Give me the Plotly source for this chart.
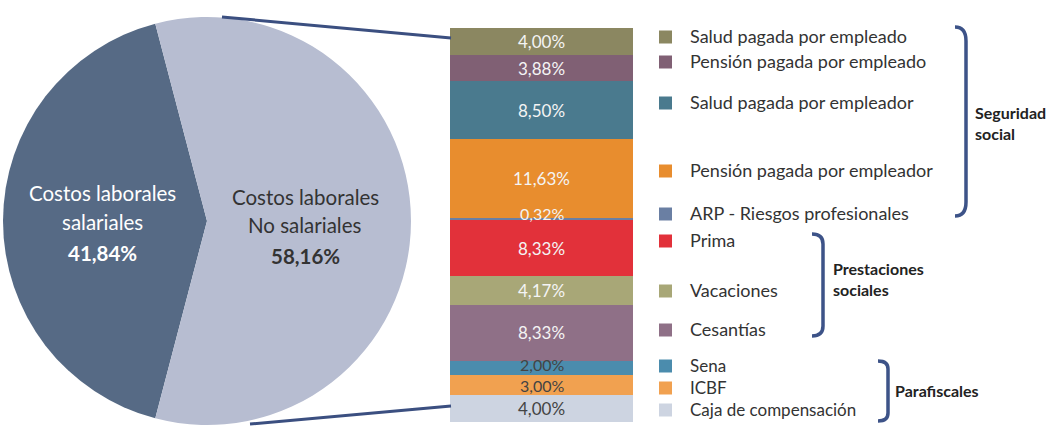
import plotly.graph_objects as go

W, H = 1049, 429

# ---------------- data ----------------
pie_labels = ["Costos laborales salariales", "Costos laborales No salariales"]
pie_values = [41.84, 58.16]
pie_colors = ["#566a85", "#b7bdd1"]

categories = [
    "Salud pagada por empleado",
    "Pensión pagada por empleado",
    "Salud pagada por empleador",
    "Pensión pagada por empleador",
    "ARP - Riesgos profesionales",
    "Prima",
    "Vacaciones",
    "Cesantías",
    "Sena",
    "ICBF",
    "Caja de compensación",
]
values = [4.00, 3.88, 8.50, 11.63, 0.32, 8.33, 4.17, 8.33, 2.00, 3.00, 4.00]
colors = ["#8b8761", "#806074", "#4a7a8e", "#e88d2e", "#6a7fa3", "#e2313a",
          "#a8a777", "#8f7087", "#4b8cad", "#f1a150", "#cdd4e1"]
label_colors = ["#f4f4f4"] * 8 + ["#444444"] * 3

groups = ["Seguridad<br>social", "Prestaciones<br>sociales", "Parafiscales"]

# ---------------- layout helpers (pixel -> paper) ----------------
def X(px):
    return px / W

def Y(py):
    return 1 - py / H

fig = go.Figure()

# Pie
cx, cy, r = 207, 221, 204
fig.add_trace(go.Pie(
    labels=pie_labels, values=pie_values, sort=False, direction="clockwise",
    rotation=270 - pie_values[0] / sum(pie_values) * 360 / 2,
    marker=dict(colors=pie_colors, line=dict(width=0)),
    textinfo="none", showlegend=False, hoverinfo="label+percent",
    domain=dict(x=[X(cx - r), X(cx + r)], y=[Y(cy + r), Y(cy - r)]),
))

# Stacked bar
total = sum(values)
for cat, v, c in zip(categories, values, colors):
    fig.add_trace(go.Bar(
        x=[0], y=[v], name=cat, marker=dict(color=c, line=dict(width=0)),
        width=1, showlegend=False, hoverinfo="name+y",
    ))

bar_x0, bar_x1, bar_y0, bar_y1 = 450, 633, 28, 422
fig.update_layout(
    barmode="stack",
    xaxis=dict(domain=[X(bar_x0), X(bar_x1)], range=[-0.5, 0.5], visible=False, fixedrange=True),
    yaxis=dict(domain=[Y(bar_y1), Y(bar_y0)], range=[total, 0], visible=False, fixedrange=True),
)

annotations = []
shapes = []
font_main = "Lato, 'Open Sans', sans-serif"

# bar value labels
label_shift = [0, 0, 0, 0, 5, 0, 0, 0, 3, -1, 0]
label_size = [17, 17, 17, 17, 16, 17, 17, 17, 16, 16, 17]
cum = 0
for v, lc, sh, fs in zip(values, label_colors, label_shift, label_size):
    mid = cum + v / 2
    cum += v
    annotations.append(dict(
        x=0, y=mid, xref="x", yref="y", showarrow=False,
        xanchor="center", yanchor="middle",
        text=f"{v:.2f}".replace(".", ",") + "%",
        font=dict(family=font_main, size=fs, color=lc),
        yshift=sh,
    ))

# pie labels (one annotation per line)
pie_text = [
    (102, [193, 222, 253], ["Costos laborales", "salariales", "<b>41,84%</b>"], "white"),
    (305, [197, 225, 256], ["Costos laborales", "No salariales", "<b>58,16%</b>"], "#333333"),
]
for px, ys, lines, col in pie_text:
    for py, t in zip(ys, lines):
        annotations.append(dict(x=X(px), y=Y(py), xref="paper", yref="paper", showarrow=False,
                                xanchor="center", yanchor="middle",
                                text=t, font=dict(family=font_main, size=20.5, color=col)))

# legend rows
legend_y = [37, 62, 103, 171, 214, 241, 291, 330, 366, 388, 410]
legend_size = [18] * 8 + [17] * 3
for cat, c, ly, fs in zip(categories, colors, legend_y, legend_size):
    shapes.append(dict(type="rect", xref="paper", yref="paper",
                       x0=X(659), x1=X(672), y0=Y(ly + 6.5), y1=Y(ly - 6.5),
                       fillcolor=c, line=dict(width=0)))
    annotations.append(dict(x=X(688), y=Y(ly - 1), xref="paper", yref="paper", showarrow=False,
                            xanchor="left", yanchor="middle", text=cat,
                            font=dict(family=font_main, size=fs, color="#333333")))

# brackets
bcol = "#3d5388"
def bracket(x0, x1, top, bot, rr):
    path = (f"M {X(x0)},{Y(top)} Q {X(x1)},{Y(top)} {X(x1)},{Y(top + rr)} "
            f"L {X(x1)},{Y(bot - rr)} Q {X(x1)},{Y(bot)} {X(x0)},{Y(bot)}")
    return dict(type="path", xref="paper", yref="paper", path=path,
                line=dict(color=bcol, width=3.5))

shapes.append(bracket(955, 966, 27, 216, 14))
shapes.append(bracket(812, 823, 234, 336, 10))
shapes.append(bracket(878, 888, 361, 421, 8))

# group labels
gfont = dict(family=font_main, size=16, color="#222222")
annotations.append(dict(x=X(973), y=Y(123), xref="paper", yref="paper", showarrow=False,
                        xanchor="left", yanchor="middle", align="left",
                        text=f"<b>{groups[0]}</b>", font=gfont))
annotations.append(dict(x=X(831), y=Y(279), xref="paper", yref="paper", showarrow=False,
                        xanchor="left", yanchor="middle", align="left",
                        text=f"<b>{groups[1]}</b>", font=gfont))
annotations.append(dict(x=X(893), y=Y(390), xref="paper", yref="paper", showarrow=False,
                        xanchor="left", yanchor="middle", align="left",
                        text=f"<b>{groups[2]}</b>", font=gfont))

# connector lines from pie to bar
shapes.append(dict(type="line", xref="paper", yref="paper",
                   x0=X(222), y0=Y(17), x1=X(451), y1=Y(38), line=dict(color="#3b4f80", width=3)))
shapes.append(dict(type="line", xref="paper", yref="paper",
                   x0=X(250), y0=Y(424), x1=X(451), y1=Y(406), line=dict(color="#3b4f80", width=3)))

fig.update_layout(
    width=W, height=H, margin=dict(l=0, r=0, t=0, b=0),
    paper_bgcolor="white", plot_bgcolor="white",
    annotations=annotations, shapes=shapes, showlegend=False,
)

fig.write_html("out.html", config={"displayModeBar": False},
               post_script="document.body.style.margin='0';document.body.style.overflow='hidden';")
